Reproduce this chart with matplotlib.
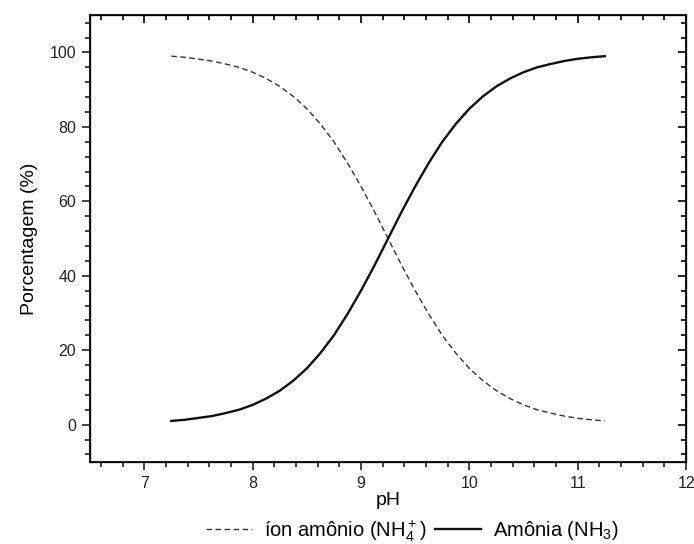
import numpy as np
import matplotlib
matplotlib.use('Agg')
import matplotlib.pyplot as plt
from matplotlib.ticker import MultipleLocator

plt.rcParams['font.family'] = ['Liberation Sans', 'DejaVu Sans']
plt.rcParams['mathtext.fontset'] = 'custom'
plt.rcParams['mathtext.rm'] = 'Liberation Sans'

# valores
ph = [7.25, 7.375, 7.5, 7.625, 7.75, 7.875, 8.0, 8.125, 8.25, 8.375, 8.5,
      8.625, 8.75, 8.875, 9.0, 9.125, 9.25, 9.375, 9.5, 9.625, 9.75, 9.875,
      10.0, 10.125, 10.25, 10.375, 10.5, 10.625, 10.75, 10.875, 11.0, 11.125,
      11.25]
amonia = [1.0, 1.3, 1.8, 2.3, 3.1, 4.0, 5.3, 7.0, 9.1, 11.8, 15.1, 19.2,
          24.0, 29.7, 36.0, 42.8, 50.0, 57.2, 64.0, 70.3, 76.0, 80.8, 84.9,
          88.2, 90.9, 93.0, 94.7, 96.0, 96.9, 97.7, 98.3, 98.7, 99.0]
ion_amonio = [99.0, 98.7, 98.2, 97.7, 96.9, 96.0, 94.7, 93.0, 90.9, 88.2,
              84.9, 80.8, 76.0, 70.3, 64.0, 57.2, 50.0, 42.8, 36.0, 29.7,
              24.0, 19.2, 15.1, 11.8, 9.1, 7.0, 5.3, 4.0, 3.1, 2.3, 1.7, 1.3,
              1.0]

fig = plt.figure(figsize=(6.94, 5.44), dpi=100)
ax = fig.add_axes([0.1297, 0.151, 0.859, 0.821])

ax.plot(ph, ion_amonio, '--', color='#333333', lw=1.0, dashes=(4, 2.5),
        label='íon amônio (NH$_4^+$)')
ax.plot(ph, amonia, '-', color='#111111', lw=1.7, label='Amônia (NH$_3$)')

ax.set_xlim(6.5, 12)
ax.set_ylim(-10, 110)
ax.xaxis.set_major_locator(MultipleLocator(1))
ax.xaxis.set_minor_locator(MultipleLocator(0.2))
ax.yaxis.set_major_locator(MultipleLocator(20))
ax.yaxis.set_minor_locator(MultipleLocator(4))

ax.tick_params(which='both', direction='out', labelsize=11.5, width=1.2,
               colors='#222222')
ax.tick_params(which='major', length=6, pad=4)
ax.tick_params(which='minor', length=3.5)
for s in ax.spines.values():
    s.set_linewidth(1.5)
    s.set_color('#222222')

# ticks espelhados para dentro no topo e na direita
ax2 = ax.twiny()
ax2.set_xlim(ax.get_xlim())
ax2.xaxis.set_major_locator(MultipleLocator(1))
ax2.xaxis.set_minor_locator(MultipleLocator(0.2))
ax2.tick_params(which='both', direction='in', labeltop=False, width=1.2)
ax2.tick_params(which='major', length=6)
ax2.tick_params(which='minor', length=3.5)
ax3 = ax.twinx()
ax3.set_ylim(ax.get_ylim())
ax3.yaxis.set_major_locator(MultipleLocator(20))
ax3.yaxis.set_minor_locator(MultipleLocator(4))
ax3.tick_params(which='both', direction='in', labelright=False, width=1.2)
ax3.tick_params(which='major', length=6)
ax3.tick_params(which='minor', length=3.5)

ax.set_xlabel('pH', fontsize=14, labelpad=1)
ax.set_ylabel('Porcentagem (%)', fontsize=14, labelpad=8)

h, l = ax.get_legend_handles_labels()
fig.legend(h, l, loc='center', bbox_to_anchor=(0.594, 0.024), ncol=2,
           frameon=False, fontsize=14.5, handlelength=2.3, columnspacing=0.4,
           handletextpad=0.6)

fig.savefig('out.png', dpi=100, facecolor='white')
